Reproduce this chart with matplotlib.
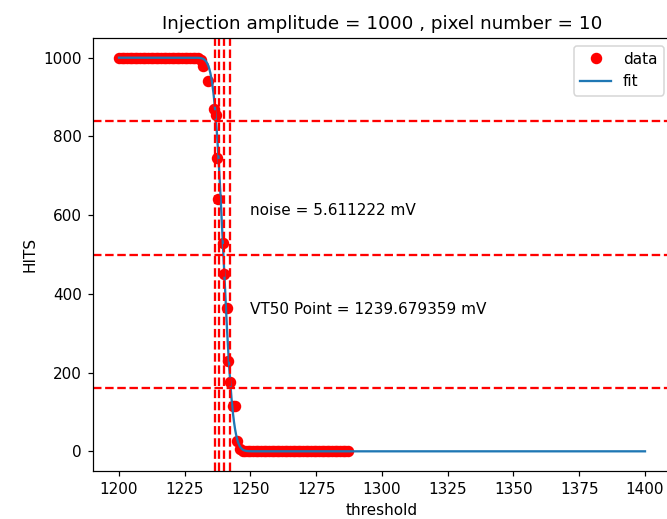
import math
import matplotlib
matplotlib.use('Agg')
import matplotlib.pyplot as plt
import numpy as np

# scan settings / fit results
amplitude = 1000
pixel = 10
vt50 = 1239.679359
noise = 5.611222

# measured hits per threshold step
thr_top = list(range(1200, 1230))
hits_top = [1000] * len(thr_top)
thr_edge = [1230, 1231, 1232, 1233.8, 1236.0, 1236.8, 1237.1, 1237.8, 1239.5,
            1240.0, 1241.2, 1241.6, 1242.2, 1243.3, 1244.2, 1244.9, 1246.0]
hits_edge = [998, 993, 980, 940, 870, 855, 745, 640, 530,
             450, 365, 230, 175, 115, 115, 25, 6]
thr_bot = list(range(1247, 1288))
hits_bot = [0] * len(thr_bot)

thresholds = np.array(thr_top + thr_edge + thr_bot, dtype=float)
hits = np.array(hits_top + hits_edge + hits_bot, dtype=float)

# reference levels and crossing markers
levels = [0.84 * amplitude, 0.5 * amplitude, 0.16 * amplitude]
crossings = [1236.5, 1238.1, 1240.0, 1242.2]


def scurve(x, a, mu, sigma):
    erfc = np.vectorize(math.erfc)
    return 0.5 * a * erfc((x - mu) / (math.sqrt(2) * sigma))


xfit = np.linspace(1200, 1400, 2000)
yfit = scurve(xfit, amplitude, vt50, noise / 2)

dpi = 110
fig = plt.figure(figsize=(667 / dpi, 519 / dpi), dpi=dpi)
ax = fig.add_axes([92.7 / 667, 48 / 519, 578.6 / 667, 433 / 519])

ax.plot(thresholds, hits, 'o', color='red', markersize=6.5, label='data')
ax.plot(xfit, yfit, color='tab:blue', label='fit')
for lv in levels:
    ax.axhline(lv, color='red', linestyle='--')
for c in crossings:
    ax.axvline(c, color='red', linestyle='--')

ax.text(1250, 600, 'noise = %f mV' % noise)
ax.text(1250, 350, 'VT50 Point = %f mV' % vt50)

ax.set_xlim(1190, 1410)
ax.set_ylim(-50, 1050)
ax.set_xticks(np.arange(1200, 1401, 25))
ax.set_xlabel('threshold')
ax.set_ylabel('HITS')
ax.set_title('Injection amplitude = %d , pixel number = %d' % (amplitude, pixel))
ax.legend(loc='upper right')

fig.savefig('out.png', dpi=dpi)
